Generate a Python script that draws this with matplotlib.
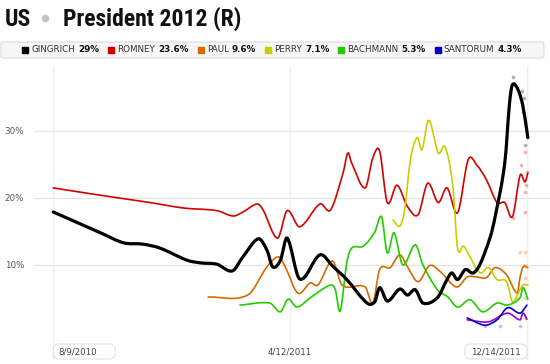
from __future__ import annotations

import matplotlib

matplotlib.use("Agg")

import matplotlib.dates as mdates
import matplotlib.pyplot as plt
import numpy as np
from matplotlib import font_manager
from matplotlib.font_manager import FontProperties
from matplotlib.lines import Line2D
from matplotlib.patches import FancyBboxPatch, PathPatch
from matplotlib.path import Path
from matplotlib.transforms import IdentityTransform

WIDTH_PX = 550
HEIGHT_PX = 364
DPI = 100
OUTPUT = "out.png"

# Poll averages (percent)
GINGRICH_DATES = [
    "2010-08-09", "2010-09-27", "2010-10-21", "2010-11-10", "2010-11-28",
    "2010-12-26", "2011-01-09", "2011-01-26", "2011-02-11", "2011-02-22",
    "2011-03-10", "2011-03-19", "2011-03-25", "2011-04-02", "2011-04-09",
    "2011-04-22", "2011-05-13", "2011-05-27", "2011-06-10", "2011-07-01",
    "2011-07-09", "2011-07-14", "2011-07-22", "2011-08-04", "2011-08-12",
    "2011-08-20", "2011-08-28", "2011-09-12", "2011-09-22", "2011-09-27",
    "2011-10-03", "2011-10-11", "2011-10-19", "2011-10-26", "2011-11-06",
    "2011-11-11", "2011-11-21", "2011-11-26", "2011-11-29", "2011-12-05",
    "2011-12-10", "2011-12-15",
]
GINGRICH_VALUES = [
    17.9, 14.8, 13.3, 13.1, 12.5, 10.7, 10.3, 10.1, 9.1, 11.2,
    13.9, 12.2, 9.7, 10.7, 14.0, 7.9, 11.5, 9.7, 7.8, 4.3,
    4.5, 6.6, 4.6, 6.4, 5.5, 6.3, 4.3, 5.1, 7.8, 8.8,
    7.8, 9.3, 8.8, 10.0, 14.2, 17.2, 25.2, 34.2, 36.9, 36.1,
    33.6, 29.0,
]

ROMNEY_DATES = [
    "2010-08-09", "2010-09-27", "2010-11-18", "2010-12-22", "2011-01-26",
    "2011-02-12", "2011-02-22", "2011-03-09", "2011-03-15", "2011-03-30",
    "2011-04-09", "2011-04-22", "2011-05-13", "2011-05-24", "2011-06-06",
    "2011-06-11", "2011-06-15", "2011-06-29", "2011-07-07", "2011-07-14",
    "2011-07-22", "2011-08-01", "2011-08-12", "2011-08-23", "2011-09-02",
    "2011-09-13", "2011-09-22", "2011-10-03", "2011-10-14", "2011-10-23",
    "2011-11-02", "2011-11-13", "2011-11-21", "2011-11-29", "2011-12-07",
    "2011-12-12", "2011-12-15",
]
ROMNEY_VALUES = [
    21.5, 20.4, 19.3, 18.5, 18.1, 17.3, 17.9, 19.1, 18.2, 14.0,
    18.1, 15.7, 19.1, 18.2, 23.7, 26.7, 25.2, 21.5, 26.0, 27.0,
    19.3, 21.9, 18.7, 17.5, 22.2, 19.3, 21.5, 17.8, 25.7, 24.9,
    22.7, 19.3, 19.3, 17.2, 23.4, 22.4, 23.7,
]

PAUL_DATES = [
    "2011-01-17", "2011-02-27", "2011-03-19", "2011-03-31", "2011-04-07",
    "2011-04-20", "2011-05-03", "2011-05-11", "2011-05-26", "2011-06-05",
    "2011-06-29", "2011-07-07", "2011-07-14", "2011-07-25", "2011-08-04",
    "2011-08-12", "2011-08-23", "2011-09-04", "2011-09-15", "2011-10-02",
    "2011-10-13", "2011-10-23", "2011-11-02", "2011-11-11", "2011-11-23",
    "2011-12-04", "2011-12-07", "2011-12-10", "2011-12-15",
]
PAUL_VALUES = [
    5.2, 5.5, 9.7, 11.2, 9.7, 5.8, 7.3, 7.0, 10.6, 7.0,
    6.7, 4.3, 9.3, 9.6, 11.5, 9.7, 7.5, 9.9, 9.0, 6.7,
    8.2, 8.2, 8.1, 9.6, 8.5, 5.8, 8.2, 9.7, 9.6,
]

PERRY_DATES = [
    "2011-07-28", "2011-08-04", "2011-08-09", "2011-08-15", "2011-08-22",
    "2011-08-27", "2011-09-03", "2011-09-13", "2011-09-20", "2011-09-28",
    "2011-10-03", "2011-10-09", "2011-10-16", "2011-10-23", "2011-10-28",
    "2011-11-04", "2011-11-13", "2011-11-23", "2011-11-29", "2011-12-05",
    "2011-12-10", "2011-12-15",
]
PERRY_VALUES = [
    16.7, 15.8, 18.2, 25.7, 29.0, 27.2, 31.6, 26.7, 27.6, 21.9,
    12.5, 12.8, 11.2, 9.3, 8.8, 9.6, 7.8, 7.5, 4.5, 5.8,
    7.0, 7.0,
]

BACHMANN_DATES = [
    "2011-02-19", "2011-03-22", "2011-04-02", "2011-04-10", "2011-04-19",
    "2011-05-04", "2011-05-24", "2011-05-29", "2011-06-03", "2011-06-10",
    "2011-06-15", "2011-06-27", "2011-07-09", "2011-07-16", "2011-07-22",
    "2011-07-29", "2011-08-07", "2011-08-20", "2011-08-28", "2011-09-12",
    "2011-09-23", "2011-10-03", "2011-10-16", "2011-10-29", "2011-11-13",
    "2011-11-24", "2011-12-07", "2011-12-10", "2011-12-15",
]
BACHMANN_VALUES = [
    4.0, 4.3, 3.0, 4.9, 3.7, 5.2, 7.0, 6.3, 3.1, 10.4,
    12.5, 12.8, 14.9, 17.2, 11.8, 14.8, 10.0, 13.0, 10.0, 6.3,
    5.2, 3.7, 4.8, 3.0, 4.3, 4.0, 5.1, 6.6, 4.9,
]

SANTORUM_DATES = [
    "2011-10-13", "2011-10-31", "2011-11-13", "2011-11-24", "2011-12-07",
    "2011-12-14",
]
SANTORUM_VALUES = [2.1, 1.0, 1.8, 3.6, 2.8, 4.0]

# unlabelled purple series (not in the legend)
OTHER_DATES = [
    "2011-10-13", "2011-11-04", "2011-11-24", "2011-12-07", "2011-12-10",
    "2011-12-14",
]
OTHER_VALUES = [1.8, 1.5, 2.8, 1.8, 2.8, 1.9]

# individual recent polls, drawn as faint dots
GINGRICH_POLL_DATES = ["2011-11-30", "2011-12-09", "2011-12-11", "2011-12-10", "2011-12-12"]
GINGRICH_POLL_VALUES = [38.1, 36.0, 34.9, 32.8, 27.9]
ROMNEY_POLL_DATES = [
    "2011-12-12", "2011-12-08", "2011-12-14", "2011-12-13", "2011-12-12",
    "2011-12-12", "2011-11-30",
]
ROMNEY_POLL_VALUES = [26.9, 24.9, 23.9, 21.9, 20.9, 17.9, 17.0]
PAUL_POLL_DATES = ["2011-12-07", "2011-12-12", "2011-12-12", "2011-12-12"]
PAUL_POLL_VALUES = [11.9, 11.9, 10.0, 8.1]
BACHMANN_POLL_DATES = ["2011-12-04", "2011-12-12", "2011-12-12"]
BACHMANN_POLL_VALUES = [5.1, 5.1, 2.1]
OTHER_POLL_DATES = ["2011-10-31", "2011-11-16", "2011-12-07"]
OTHER_POLL_VALUES = [0.9, 0.9, 0.9]

LEGEND_NAMES = ["GINGRICH", "ROMNEY", "PAUL", "PERRY", "BACHMANN", "SANTORUM"]
LEGEND_SHARES = ["29%", "23.6%", "9.6%", "7.1%", "5.3%", "4.3%"]

Y_TICKS = [10, 20, 30]
Y_TICK_LABELS = ["10%", "20%", "30%"]
X_TICK_DATES = ["2010-08-09", "2011-04-12", "2011-12-14"]
X_TICK_LABELS = ["8/9/2010", "4/12/2011", "12/14/2011"]
X_RANGE = ["2010-07-20", "2012-01-07"]
Y_RANGE = [-4.2, 39.7]

COLORS = {
    "GINGRICH": "#000000",
    "ROMNEY": "#d40000",
    "PAUL": "#d66a00",
    "PERRY": "#cccc00",
    "BACHMANN": "#22cc00",
    "SANTORUM": "#0000cc",
    "OTHER": "#9900cc",
}


def to_dates(values: list[str]) -> np.ndarray:
    return np.array(values, dtype="datetime64[D]")


def fig_xy(x: float, y: float) -> tuple[float, float]:
    # pixel position measured from top-left -> figure fraction
    return x / WIDTH_PX, 1.0 - y / HEIGHT_PX


def title_font() -> tuple[FontProperties, bool]:
    """Bold condensed face if one is installed, else a regular bold one."""
    entries = font_manager.fontManager.ttflist
    preferred = ["Roboto Condensed", "Liberation Sans Narrow", "Open Sans Condensed"]
    for family in preferred:
        for entry in entries:
            if entry.name == family and entry.weight in ("bold", 700):
                return FontProperties(fname=entry.fname), True
    for entry in entries:
        if "condensed" in str(entry.stretch) and entry.weight in ("bold", 700):
            return FontProperties(fname=entry.fname), True
    return FontProperties(family="Roboto", weight="bold"), False


def smooth_path(x_values: np.ndarray, y_values: np.ndarray) -> Path:
    # cubic Hermite segments through the points, written as Bezier curves
    x = np.asarray(x_values, dtype=float)
    y = np.asarray(y_values, dtype=float)
    slopes = np.empty_like(y)
    slopes[1:-1] = (y[2:] - y[:-2]) / (x[2:] - x[:-2])
    slopes[0] = (y[1] - y[0]) / (x[1] - x[0])
    slopes[-1] = (y[-1] - y[-2]) / (x[-1] - x[-2])
    vertices = [(x[0], y[0])]
    codes = [Path.MOVETO]
    for i in range(len(x) - 1):
        step = (x[i + 1] - x[i]) / 3.0
        vertices += [
            (x[i] + step, y[i] + slopes[i] * step),
            (x[i + 1] - step, y[i + 1] - slopes[i + 1] * step),
            (x[i + 1], y[i + 1]),
        ]
        codes += [Path.CURVE4] * 3
    return Path(vertices, codes)


def draw_header(figure: plt.Figure) -> None:
    renderer = figure.canvas.get_renderer()
    font, condensed = title_font()
    size = 17 if condensed else 15
    first = figure.text(*fig_xy(5, 26), "US", fontproperties=font, fontsize=size,
                        va="baseline", ha="left", color="#111111")
    first_end = first.get_window_extent(renderer).x1
    figure.add_artist(Line2D([(first_end + 14) / WIDTH_PX], [1 - 18 / HEIGHT_PX],
                             marker="o", markersize=4.5, color="#c4c4c4",
                             transform=figure.transFigure))
    figure.text((first_end + 32) / WIDTH_PX, 1 - 26 / HEIGHT_PX,
                "President 2012 (R)", fontproperties=font, fontsize=size,
                va="baseline", ha="left", color="#111111")

    figure.add_artist(FancyBboxPatch(
        (1, HEIGHT_PX - 58), 543, 16,
        boxstyle="round,pad=0,rounding_size=2",
        facecolor="#f6f6f6", edgecolor="#dcdcdc", linewidth=0.8,
        transform=IdentityTransform(),
    ))

    # legend entries laid out one after another, centred on the bar
    legend_y = 1 - 50 / HEIGHT_PX
    entries = []
    total = 0.0
    for name, share in zip(LEGEND_NAMES, LEGEND_SHARES):
        label = figure.text(0, legend_y, name, fontsize=6.3, va="center",
                            ha="left", color="#333333")
        value = figure.text(0, legend_y, share, fontsize=6.3, weight="bold",
                            va="center", ha="left", color="#111111")
        label_width = label.get_window_extent(renderer).width
        value_width = value.get_window_extent(renderer).width
        entries.append((name, label, value, label_width))
        total += 6 + 3 + label_width + 3 + value_width
    gap = 9
    total += gap * (len(entries) - 1)
    cursor = 272 - total / 2
    for name, label, value, label_width in entries:
        figure.add_artist(Line2D([(cursor + 3) / WIDTH_PX], [legend_y], marker="s",
                                 markersize=4.6, color=COLORS[name],
                                 transform=figure.transFigure))
        cursor += 9
        label.set_x(cursor / WIDTH_PX)
        cursor += label_width + 3
        value.set_x(cursor / WIDTH_PX)
        cursor += value.get_window_extent(renderer).width + gap


def build_figure() -> plt.Figure:
    figure = plt.figure(figsize=(WIDTH_PX / DPI, HEIGHT_PX / DPI), dpi=DPI)
    axis = figure.add_axes([34 / WIDTH_PX, 1 - 360 / HEIGHT_PX,
                            516 / WIDTH_PX, 294 / HEIGHT_PX])
    x_range = to_dates(X_RANGE)
    axis.set_xlim(x_range[0], x_range[1])
    axis.set_ylim(*Y_RANGE)
    for spine in axis.spines.values():
        spine.set_visible(False)

    for value in Y_TICKS:
        axis.axhline(value, color="#e6e6e6", linewidth=1.0, zorder=0)
    tick_dates = to_dates(X_TICK_DATES)
    for tick in tick_dates:
        axis.axvline(tick, color="#efefef", linewidth=1.0, zorder=0)

    axis.set_yticks(Y_TICKS)
    axis.set_yticklabels(Y_TICK_LABELS, fontsize=6.3, color="#555555")
    axis.tick_params(axis="y", length=0, pad=7)
    axis.set_xticks([])

    series = [
        ("ROMNEY", ROMNEY_DATES, ROMNEY_VALUES),
        ("PAUL", PAUL_DATES, PAUL_VALUES),
        ("PERRY", PERRY_DATES, PERRY_VALUES),
        ("BACHMANN", BACHMANN_DATES, BACHMANN_VALUES),
        ("OTHER", OTHER_DATES, OTHER_VALUES),
        ("SANTORUM", SANTORUM_DATES, SANTORUM_VALUES),
        ("GINGRICH", GINGRICH_DATES, GINGRICH_VALUES),
    ]
    polls = [
        ("GINGRICH", GINGRICH_POLL_DATES, GINGRICH_POLL_VALUES),
        ("ROMNEY", ROMNEY_POLL_DATES, ROMNEY_POLL_VALUES),
        ("PAUL", PAUL_POLL_DATES, PAUL_POLL_VALUES),
        ("BACHMANN", BACHMANN_POLL_DATES, BACHMANN_POLL_VALUES),
        ("OTHER", OTHER_POLL_DATES, OTHER_POLL_VALUES),
    ]
    for name, dates, values in polls:
        axis.scatter(to_dates(dates), values, s=7, color=COLORS[name],
                     alpha=0.3, linewidths=0, zorder=1)
    for name, dates, values in series:
        width = 2.3 if name == "GINGRICH" else 1.2
        path = smooth_path(mdates.date2num(to_dates(dates)), values)
        axis.add_patch(PathPatch(path, facecolor="none", edgecolor=COLORS[name],
                                 linewidth=width, capstyle="round",
                                 joinstyle="round", zorder=2))

    # date labels in rounded boxes under the vertical guides
    box_width, box_top, box_bottom = 62, 344, 359
    for index, (tick, text) in enumerate(zip(tick_dates, X_TICK_LABELS)):
        tick_px = axis.transData.transform((mdates.date2num(tick), 0))[0]
        if index == 0:
            left = tick_px
        elif index == len(X_TICK_LABELS) - 1:
            left = tick_px - box_width
        else:
            left = tick_px - box_width / 2
        if index != 1:
            figure.add_artist(FancyBboxPatch(
                (left, HEIGHT_PX - box_bottom), box_width, box_bottom - box_top,
                boxstyle="round,pad=0,rounding_size=6",
                facecolor="white", edgecolor="#e2e2e2", linewidth=0.8,
                transform=IdentityTransform(),
            ))
        if index == 0:
            figure.text((left + 5) / WIDTH_PX, 1 - 352 / HEIGHT_PX, text,
                        fontsize=6.2, color="#444444", ha="left", va="center")
        else:
            figure.text((left + box_width / 2) / WIDTH_PX, 1 - 352 / HEIGHT_PX,
                        text, fontsize=6.2, color="#444444", ha="center",
                        va="center")

    draw_header(figure)
    return figure


def main() -> None:
    figure = build_figure()
    figure.savefig(OUTPUT, dpi=DPI, facecolor="white")
    plt.close(figure)


if __name__ == "__main__":
    main()
